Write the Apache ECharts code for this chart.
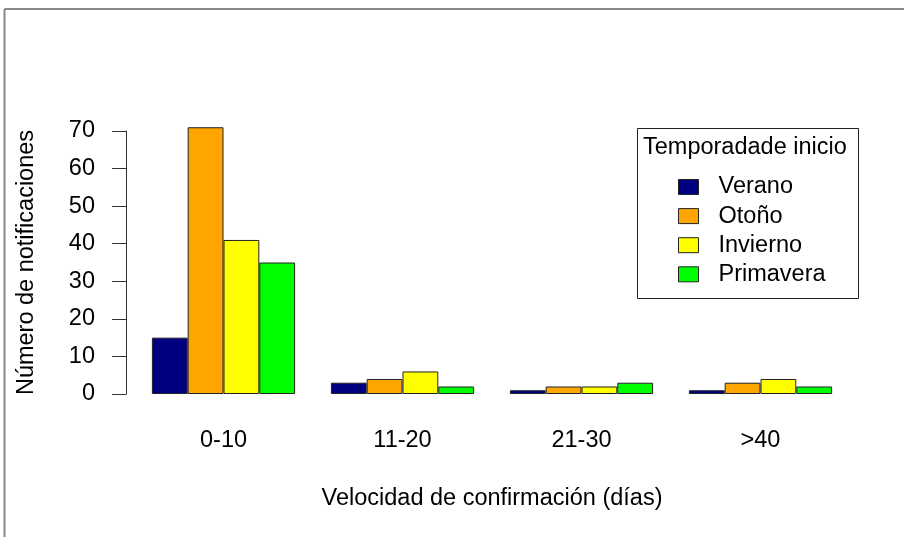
<!DOCTYPE html>
<html>
<head>
<meta charset="utf-8">
<script src="https://cdn.jsdelivr.net/npm/echarts@6/dist/echarts.min.js"></script>
<style>
html,body{margin:0;padding:0;background:#fff;}
#c{width:904px;height:537px;}
</style>
</head>
<body>
<div id="c"></div>
<script>
const categories = ['0-10', '11-20', '21-30', '>40'];
const seriesNames = ['Verano', 'Otoño', 'Invierno', 'Primavera'];
const verano = [15, 3, 1, 1];
const otono = [71, 4, 2, 3];
const invierno = [41, 6, 2, 4];
const primavera = [35, 2, 3, 2];
const yTicks = [0, 10, 20, 30, 40, 50, 60, 70];
const colors = ['#000080', '#FFA500', '#FFFF00', '#00FF00'];
const values = [verano, otono, invierno, primavera];

const FONT = 'Liberation Sans, Arial, sans-serif';
const FS = 23.5;
const chart = echarts.init(document.getElementById('c'), null, {renderer: 'canvas'});

const option = {
  backgroundColor: '#ffffff',
  animation: false,
  textStyle: {fontFamily: FONT},
  grid: {left: 134, right: 54, top: 131, bottom: 143, containLabel: false},
  xAxis: {
    type: 'category',
    data: categories,
    axisLine: {show: false},
    axisTick: {show: false},
    axisLabel: {color: '#000', fontSize: FS, fontFamily: FONT, margin: 35},
    name: 'Velocidad de confirmación (días)',
    nameLocation: 'middle',
    nameGap: 93,
    nameTextStyle: {color: '#000', fontSize: FS, fontFamily: FONT}
  },
  yAxis: {
    type: 'value',
    min: yTicks[0],
    max: yTicks[yTicks.length - 1],
    interval: 10,
    offset: 8,
    splitLine: {show: false},
    axisLine: {show: true, lineStyle: {color: '#333', width: 1}},
    axisTick: {show: true, length: 14, lineStyle: {color: '#333', width: 1}},
    axisLabel: {color: '#000', fontSize: FS, fontFamily: FONT, margin: 31},
    name: 'Número de notificaciones',
    nameLocation: 'middle',
    nameGap: 87,
    nameTextStyle: {color: '#000', fontSize: FS, fontFamily: FONT}
  },
  legend: {
    orient: 'vertical',
    left: 678,
    top: 175,
    padding: 0,
    itemWidth: 20,
    itemHeight: 15,
    itemGap: 5.1,
    icon: 'rect',
    data: seriesNames,
    textStyle: {color: '#000', fontSize: FS, fontFamily: FONT, lineHeight: 23, padding: [0, 0, 0, 15]},
    itemStyle: {borderColor: '#222', borderWidth: 1}
  },
  graphic: [
    {type: 'line', shape: {x1: 4.5, y1: 9, x2: 904, y2: 9}, style: {stroke: '#888', lineWidth: 2}},
    {type: 'line', shape: {x1: 4.5, y1: 9, x2: 4.5, y2: 537}, style: {stroke: '#888', lineWidth: 2}},
    {type: 'rect', shape: {x: 637.5, y: 128.5, width: 221, height: 170}, style: {fill: 'none', stroke: '#222', lineWidth: 1}},
    {type: 'text', x: 643, y: 148, style: {text: 'Temporadade inicio', fill: '#000', fontSize: FS, fontFamily: FONT, verticalAlign: 'middle'}}
  ],
  series: seriesNames.map((n, i) => ({
    name: n,
    type: 'bar',
    data: values[i],
    clip: false,
    barGap: '0%',
    barCategoryGap: '20%',
    itemStyle: {color: colors[i], borderColor: '#222', borderWidth: 1}
  }))
};
chart.setOption(option);
</script>
</body>
</html>
